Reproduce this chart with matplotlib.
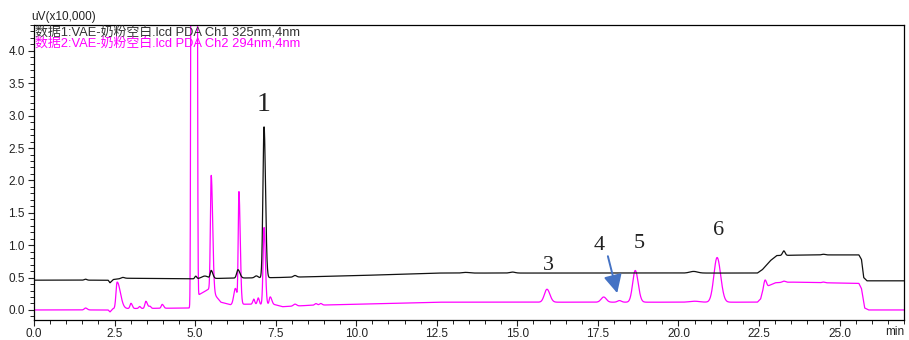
"""
Overlay of the two PDA channels for the VAE milk-powder blank run.
Saves out.png (909x340).
"""

import matplotlib
matplotlib.use("Agg")
import matplotlib.pyplot as plt
import numpy as np
from matplotlib.ticker import MultipleLocator

matplotlib.rcParams.update({
    "font.family": ["Liberation Sans", "Noto Sans CJK SC", "DejaVu Sans"],
    "font.size": 8.5,
    "axes.linewidth": 0.9,
    "xtick.direction": "out",
    "ytick.direction": "out",
})

BLACK = "#111111"
MAGENTA = "#ff00ff"
ARROW = "#4472c4"

CH1_NAME = "数据1:VAE-奶粉空白.lcd PDA Ch1 325nm,4nm"
CH2_NAME = "数据2:VAE-奶粉空白.lcd PDA Ch2 294nm,4nm"

# baseline knots (min, uV x10,000)
CH1_BASE_T = [0.0, 2.30, 2.36, 2.46, 2.80, 4.90, 6.00, 7.50, 10.0, 12.5,
              22.45, 22.60, 22.85, 23.05, 24.0, 25.60, 25.68, 25.75, 25.85, 27.0]
CH1_BASE_Y = [0.46, 0.46, 0.42, 0.47, 0.49, 0.48, 0.49, 0.50, 0.53, 0.57,
              0.57, 0.62, 0.76, 0.84, 0.85, 0.85, 0.78, 0.50, 0.45, 0.45]

CH2_BASE_T = [0.0, 2.30, 2.36, 2.45, 4.84, 5.10, 5.45, 5.80, 6.10, 6.60,
              7.50, 7.70, 8.50, 12.5, 22.45, 22.55, 22.65, 22.78, 23.0, 23.5,
              25.60, 25.68, 25.78, 25.90, 27.0]
CH2_BASE_Y = [0.0, 0.0, -0.03, 0.02, 0.03, 0.23, 0.33, 0.12, 0.08, 0.09,
              0.08, 0.05, 0.07, 0.12, 0.12, 0.17, 0.36, 0.37, 0.42, 0.43,
              0.41, 0.33, 0.03, 0.0, 0.0]

# peaks: retention time, height above baseline, front / tail width
CH1_RT = [1.60, 2.75, 5.02, 5.30, 5.50, 6.33, 6.90, 7.14, 8.10, 13.4, 14.85, 20.47, 23.27, 24.5]
CH1_H = [0.015, 0.015, 0.04, 0.04, 0.12, 0.13, 0.03, 2.33, 0.025, 0.01, 0.015, 0.025, 0.07, 0.01]
CH1_WL = [0.04, 0.05, 0.03, 0.10, 0.03, 0.04, 0.05, 0.035, 0.05, 0.10, 0.08, 0.12, 0.04, 0.05]
CH1_WR = [0.04, 0.05, 0.03, 0.10, 0.05, 0.06, 0.05, 0.045, 0.05, 0.10, 0.08, 0.12, 0.04, 0.05]

CH2_RT = [1.60, 2.58, 3.01, 3.28, 3.47, 3.60, 3.98, 4.89, 5.05, 5.50, 6.25, 6.36,
          6.82, 6.96, 7.14, 7.33, 8.10, 8.75, 8.90, 15.92, 17.68, 18.17, 18.66,
          20.50, 21.20, 22.69, 23.27, 24.5]
CH2_H = [0.03, 0.41, 0.08, 0.03, 0.11, 0.03, 0.06, 14.0, 12.0, 1.78, 0.25, 1.72,
         0.08, 0.10, 1.19, 0.12, 0.03, 0.025, 0.025, 0.20, 0.08, 0.025, 0.49,
         0.015, 0.69, 0.10, 0.02, 0.01]
CH2_WL = [0.04, 0.035, 0.03, 0.03, 0.03, 0.03, 0.03, 0.018, 0.05, 0.025, 0.05, 0.022,
          0.03, 0.03, 0.03, 0.03, 0.05, 0.04, 0.04, 0.08, 0.08, 0.06, 0.08,
          0.15, 0.10, 0.03, 0.05, 0.04]
CH2_WR = [0.05, 0.10, 0.04, 0.03, 0.05, 0.03, 0.04, 0.05, 0.018, 0.045, 0.05, 0.04,
          0.03, 0.03, 0.04, 0.05, 0.05, 0.04, 0.04, 0.09, 0.08, 0.06, 0.09,
          0.15, 0.11, 0.04, 0.05, 0.04]

# peak numbering: label, x, y
PEAK_LABELS = ["1", "3", "4", "5", "6"]
PEAK_LABEL_X = [7.11, 15.95, 17.55, 18.78, 21.23]
PEAK_LABEL_Y = [3.07, 0.61, 0.92, 0.95, 1.16]
PEAK_LABEL_SIZE = [20, 16, 16, 16, 16]


def trace(t, base_t, base_y, rt, h, wl, wr):
    y = np.interp(t, base_t, base_y)
    for c, a, sl, sr in zip(rt, h, wl, wr):
        s = np.where(t < c, sl, sr)
        y = y + a * np.exp(-0.5 * ((t - c) / s) ** 2)
    return y


def main():
    t = np.linspace(0, 27, 8000)
    ch1 = trace(t, CH1_BASE_T, CH1_BASE_Y, CH1_RT, CH1_H, CH1_WL, CH1_WR)
    ch2 = trace(t, CH2_BASE_T, CH2_BASE_Y, CH2_RT, CH2_H, CH2_WL, CH2_WR)

    fig = plt.figure(figsize=(9.09, 3.4), dpi=100)
    ax = fig.add_axes([34 / 909, 1 - 320 / 340, 870 / 909, 295 / 340])

    ax.plot(t, ch2, color=MAGENTA, linewidth=0.9)
    ax.plot(t, ch1, color=BLACK, linewidth=0.9)

    ax.set_xlim(0, 27)
    ax.set_ylim(-0.155, 4.40)
    ax.xaxis.set_minor_locator(MultipleLocator(0.5))
    ax.yaxis.set_major_locator(MultipleLocator(0.5))
    ax.yaxis.set_minor_locator(MultipleLocator(0.1))
    xt = np.arange(0, 25.1, 2.5)
    ax.set_xticks(xt)
    ax.set_xticklabels([f"{v:.1f}" for v in xt])
    ax.tick_params(which="major", length=4.5, width=0.8, colors="#222", labelsize=8.5)
    ax.tick_params(axis="x", which="major", pad=1.0)
    ax.tick_params(axis="y", which="major", pad=2)
    ax.tick_params(which="minor", length=2.8, width=0.7, colors="#222")
    ax.text(1.0, -0.022, "min", transform=ax.transAxes, ha="right", va="top",
            fontsize=8.5, color="#222")

    fig.text(31 / 909, 1 - 17 / 340, "uV(x10,000)", ha="left", va="center",
             fontsize=8.5, color="#222")
    ax.text(0.001, 0.977, CH1_NAME, transform=ax.transAxes, ha="left", va="center",
            fontsize=9.3, color="#333")
    ax.text(0.001, 0.937, CH2_NAME, transform=ax.transAxes, ha="left", va="center",
            fontsize=9.3, color=MAGENTA)

    for lab, x, y, fs in zip(PEAK_LABELS, PEAK_LABEL_X, PEAK_LABEL_Y, PEAK_LABEL_SIZE):
        ax.text(x, y, lab, ha="center", va="baseline", fontsize=fs,
                family="Liberation Serif", color="#222")

    ax.annotate("", xy=(18.10, 0.26), xytext=(17.81, 0.83),
                arrowprops=dict(arrowstyle="-|>,head_length=1.3,head_width=0.65",
                                color=ARROW, lw=1.4, shrinkA=0, shrinkB=0))

    fig.savefig("out.png", dpi=100)
    plt.close(fig)


if __name__ == "__main__":
    main()
